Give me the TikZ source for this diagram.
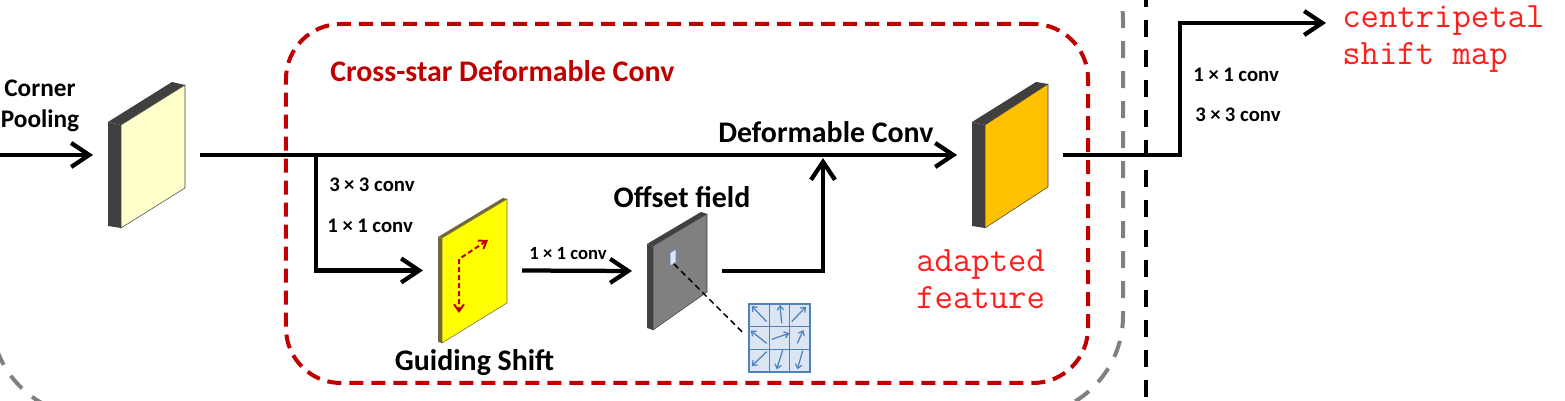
\documentclass[tikz,border=0pt]{standalone}
\usepackage{fontspec}
\setmainfont{Carlito}
\usepackage{tikz}
\usetikzlibrary{positioning}
\usetikzlibrary{arrows.meta}

\definecolor{paleyellow}{RGB}{255,255,204}
\definecolor{gsyellow}{RGB}{255,255,0}
\definecolor{adaptorange}{RGB}{255,192,0}
\definecolor{slabdark}{RGB}{64,64,64}
\definecolor{offsetgray}{RGB}{128,128,128}
\definecolor{gsside}{RGB}{112,106,58}
\definecolor{framered}{RGB}{192,0,0}
\definecolor{framegray}{RGB}{128,128,128}
\definecolor{gridfill}{RGB}{220,230,242}
\definecolor{gridblue}{RGB}{79,129,189}
\definecolor{labelred}{RGB}{255,30,30}

\begin{document}
\begin{tikzpicture} [
    x=0.2mm, y=-0.2mm,              % one unit = one pixel of the layout, y grows downwards
    ]
% -------------------------------------------------
\tikzset{
  box/.style={rectangle, inner sep=0pt, outer xsep=3mm},
  line/.style={draw, line width=0.85mm},
  arr/.style={line, -{Straight Barb[length=3.6mm, width=4.8mm]}},
  face/.style={draw=slabdark, line width=0.3pt},
  lab/.style={font=\bfseries\fontsize{17}{20}\selectfont, inner sep=0pt},
  convlab/.style={font=\bfseries\fontsize{11.8}{14}\selectfont, inner sep=0pt, anchor=base west},
  redlab/.style={font=\ttfamily\fontsize{20.3}{21}\selectfont, text=labelred, align=left, inner sep=0pt, anchor=north west},
  redframe/.style={draw=framered, line width=0.8mm, dash pattern=on 2.8mm off 1.6mm, rounded corners=11mm},
  grayframe/.style={draw=framegray, line width=0.8mm, dash pattern=on 3.4mm off 2.6mm, rounded corners=20mm},
  cutline/.style={draw=black, line width=0.8mm, dash pattern=on 3.4mm off 2.6mm},
  shiftarr/.style={draw=framered, line width=0.4mm, dash pattern=on 1mm off 0.6mm, {Straight Barb[length=1.4mm, width=2mm]}-{Straight Barb[length=1.4mm, width=2mm]}},
  vec/.style={draw=gridblue, line width=0.25mm, -{Straight Barb[length=0.8mm, width=1.3mm]}}
}

    \useasboundingbox (0,0) rectangle (1565,401);

    % frames
    \draw[grayframe] (-9,-80) rectangle (1123,416);                            % outer gray frame
    \node[redframe, minimum width=160.4mm, minimum height=71.8mm] (dcn) at (687,203.5) {};
    \draw[cutline] (1146,-10) -- (1146,411);                                   % black cut line

    % feature maps
    \fill[slabdark] (108,122) -- (172,82) -- (185,85) -- (121,125) -- cycle;   % slab 1: top
    \fill[slabdark] (108,122) -- (121,125) -- (121,228) -- (108,226) -- cycle; % slab 1: left side
    \draw[face, fill=paleyellow] (121,125) -- (185,85) -- (185,188) -- (121,228) -- cycle; % slab 1: front

    \fill[gsside] (438,237) -- (503,198) -- (507,199) -- (442,238) -- cycle;   % slab 2: top
    \fill[gsside] (438,237) -- (442,238) -- (442,343) -- (438,342) -- cycle;   % slab 2: left side
    \draw[face, draw=gsside, fill=gsyellow] (442,238) -- (507,199) -- (507,303) -- (442,343) -- cycle; % slab 2: front

    \fill[slabdark] (647,244) -- (701,212) -- (707,214) -- (653,246) -- cycle; % slab 3: top
    \fill[slabdark] (647,244) -- (653,246) -- (653,330) -- (647,328) -- cycle; % slab 3: left side
    \draw[face, fill=offsetgray] (653,246) -- (707,214) -- (707,292) -- (653,330) -- cycle; % slab 3: front
    \draw[draw=gridblue, line width=0.3pt, fill=gridfill] (670,253) -- (676,249) -- (676,262) -- (670,266) -- cycle; % slab 3: sample point

    \fill[slabdark] (972,122) -- (1036,82) -- (1048,84) -- (985,125) -- cycle; % slab 4: top
    \fill[slabdark] (972,122) -- (985,125) -- (985,228) -- (972,226) -- cycle; % slab 4: left side
    \draw[face, fill=adaptorange] (985,125) -- (1048,84) -- (1048,187) -- (985,228) -- cycle; % slab 4: front

    \node[box, minimum width=15.4mm, minimum height=29.2mm] (pool) at (146.5,155) {};
    \node[box, minimum width=13.8mm, minimum height=29mm] (guide) at (472.5,270.5) {};
    \node[box, minimum width=12mm, minimum height=23.6mm] (offset) at (677,271) {};
    \node[box, minimum width=15.2mm, minimum height=29.2mm] (adapt) at (1010,155) {};
    \coordinate (spot) at (674,264);

    % guiding shift inside slab 2
    \path[shiftarr] (488,240) -- (459,259) -- (459,313);

    % offset grid
    \node[draw=gridblue, line width=0.3mm, fill=gridfill, inner sep=0pt,
          minimum width=12.2mm, minimum height=13.6mm] (grid) at (779.5,338) {};
    \draw[gridblue, line width=0.3mm] (769.3,304) -- (769.3,372);
    \draw[gridblue, line width=0.3mm] (789.7,304) -- (789.7,372);
    \draw[gridblue, line width=0.3mm] (749,326.7) -- (810,326.7);
    \draw[gridblue, line width=0.3mm] (749,349.3) -- (810,349.3);
    \path[vec] (766.7,321.7) -- (751.7,306);      % row 1
    \path[vec] (781.7,323.3) -- (780,305);
    \path[vec] (791.7,321.7) -- (806,306.7);
    \path[vec] (766.7,343.3) -- (750.7,330.7);    % row 2
    \path[vec] (771.7,339.3) -- (789.3,333.3);
    \path[vec] (797.3,343.3) -- (803.3,330);
    \path[vec] (766.7,351.7) -- (751.7,366);      % row 3
    \path[vec] (782.7,350) -- (776.7,369.3);
    \path[vec] (802.7,350.7) -- (797.3,369.3);
    \draw[line width=0.3mm, dash pattern=on 1.2mm off 0.8mm, shorten >=1.6mm] (spot) -- (grid.west);

    % labels
    \node[font=\bfseries\fontsize{14.4}{17.6}\selectfont, align=center, inner sep=0pt] (cpool) at (40,106) {Corner\\Pooling};
    \node[lab, text=framered, anchor=base west] (dcntitle) at (330,82) {Cross-star Deformable Conv};
    \node[lab, anchor=base west] (dcnlab) at (718,143) {Deformable Conv};
    \node[lab, below=1.2mm of guide, xshift=0.4mm] (gslab) {Guiding Shift};
    \node[lab, above=0.8mm of offset, xshift=1mm] (oflab) {Offset field};
    \node[convlab] (c33a) at (329,192) {3\kern2.5pt×\kern2.5pt3 conv};
    \node[convlab] (c11a) at (327,233) {1 ×\kern2.5pt1 conv};
    \node[convlab, font=\bfseries\fontsize{10.6}{12}\selectfont] (c11b) at (529,260) {1 ×\kern2.5pt1 conv};
    \node[convlab] (c11c) at (1193,82) {1 ×\kern2.5pt1 conv};
    \node[convlab] (c33c) at (1195,122) {3\kern2.5pt×\kern2.5pt3 conv};
    \node[redlab] (adlab) at (916,249) {adapted\\feature};
    \node[redlab] (cslab) at (1342,5) {centripetal\\shift map};

    % connectors
    \coordinate (in) at (0,155);
    \coordinate (split) at (316,155);
    \coordinate (merge) at (823,158);
    \coordinate (bend) at (1180,23);
    \coordinate (out) at (1326,23);

    \path [arr] (in) -- (pool.west);
    \path [arr] (pool.east) -- (adapt.west);
    \path [arr] (split) |- (guide.west);
    \path [arr] (guide.east) -- (offset.west);
    \path [arr] (offset.east) -| (merge);
    \path [arr] (adapt.east) -| (bend) -- (out);

\end{tikzpicture}
\end{document}
